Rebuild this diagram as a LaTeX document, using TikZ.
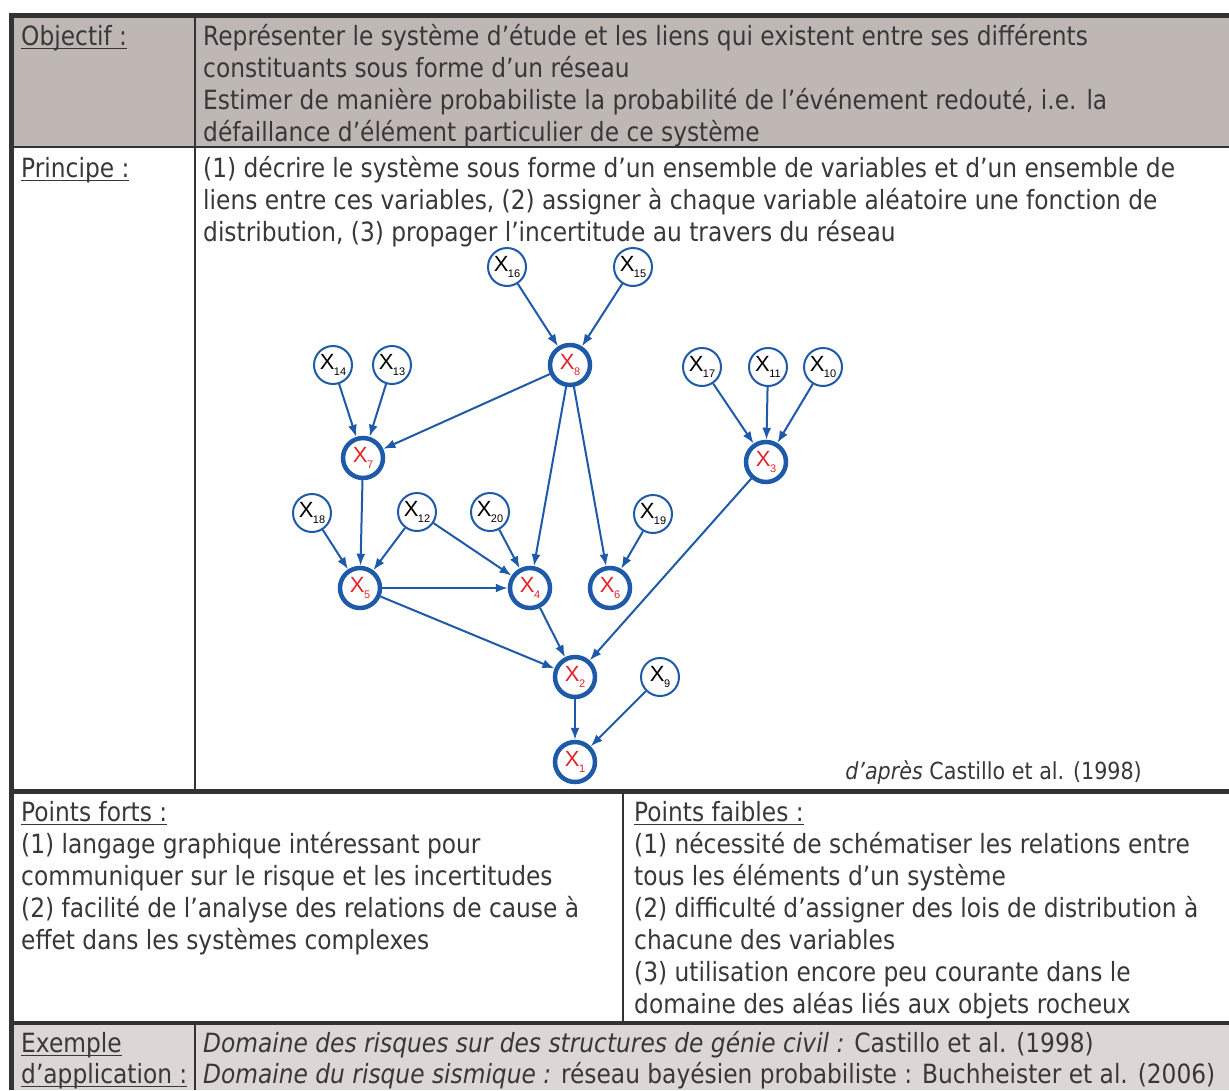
\documentclass[tikz,border=0pt]{standalone}
\usepackage{fontspec}
\setmainfont[FakeStretch=0.88]{DejaVu Sans}
\newfontfamily\graphfont{Liberation Sans}
\usetikzlibrary{arrows.meta}
\newlength\lblw
\newcommand{\lbl}[1]{\settowidth{\lblw}{#1}\rlap{#1}\rule[-4pt]{\lblw}{1.5pt}}
\newcommand{\xvar}[1]{{\graphfont\fontsize{22}{22}\selectfont X\kern-0.5pt\raisebox{-6pt}{\fontsize{11}{11}\selectfont #1}}}
\begin{document}
\begin{tikzpicture}[x=1pt,y=-1pt,
  txt/.style={anchor=base west,inner sep=0pt,text=textgray,font=\fontsize{26.5}{32}\selectfont},
  varsmall/.style={circle,draw=nodeblue,line width=2pt,minimum size=38pt,inner sep=0pt,fill=white},
  varbig/.style={circle,draw=nodeblue,line width=4.5pt,minimum size=40pt,inner sep=0pt,fill=white,text=nodered},
  link/.style={draw=nodeblue,line width=2pt,-{Latex[length=12pt,width=9pt]}}]
\definecolor{rulegray}{HTML}{333336}
\definecolor{objgray}{HTML}{BFB7B4}
\definecolor{exgray}{HTML}{DCD7D4}
\definecolor{textgray}{HTML}{383838}
\definecolor{nodeblue}{HTML}{1E5AA8}
\definecolor{nodered}{HTML}{E3232B}
\useasboundingbox (0,0) rectangle (1229,1090);
\fill[white] (0,0) rectangle (1229,1090);
\fill[objgray] (14,18) rectangle (1229,146);
\fill[exgray] (14,1024) rectangle (1229,1090);
\fill[rulegray] (9,13) rectangle (1229,18);
\fill[rulegray] (9,13) rectangle (14,1090);
\fill[rulegray] (14,146) rectangle (1229,148);
\fill[rulegray] (194,18) rectangle (196,789);
\fill[rulegray] (14,789) rectangle (1229,794);
\fill[rulegray] (622,794) rectangle (624,1022);
\fill[rulegray] (14,1021) rectangle (1229,1025);
\fill[rulegray] (194,1025) rectangle (196,1090);
\node[txt] (objlabel) at (21,45) {\lbl{Objectif :}};
\foreach \t [count=\i from 0] in {{Représenter le système d’étude et les liens qui existent entre ses différents},
  {constituants sous forme d’un réseau},
  {Estimer de manière probabiliste la probabilité de l’événement redouté, i.e. la},
  {défaillance d’élément particulier de ce système}}
  \node[txt] (obj\i) at (203,45+32*\i) {\t};
\node[txt] (prilabel) at (21,177) {\lbl{Principe :}};
\foreach \t [count=\i from 0] in {{(1) décrire le système sous forme d’un ensemble de variables et d’un ensemble de},
  {liens entre ces variables, (2) assigner à chaque variable aléatoire une fonction de},
  {distribution, (3) propager l’incertitude au travers du réseau}}
  \node[txt] (pri\i) at (203,177+32*\i) {\t};
\node[txt,font=\fontsize{23.5}{28}\selectfont,anchor=base east] (source) at (1142,779) {\textit{d’après} Castillo et al. (1998)};
\node[txt] (fortlabel) at (21,821) {\lbl{Points forts :}};
\foreach \t [count=\i from 1] in {{(1) langage graphique intéressant pour},
  {communiquer sur le risque et les incertitudes},
  {(2) facilité de l’analyse des relations de cause à},
  {effet dans les systèmes complexes}}
  \node[txt] (fort\i) at (21,821+32*\i) {\t};
\node[txt] (faiblabel) at (634,821) {\lbl{Points faibles :}};
\foreach \t [count=\i from 1] in {{(1) nécessité de schématiser les relations entre},
  {tous les éléments d’un système},
  {(2) difficulté d’assigner des lois de distribution à},
  {chacune des variables},
  {(3) utilisation encore peu courante dans le},
  {domaine des aléas liés aux objets rocheux}}
  \node[txt] (faib\i) at (634,821+32*\i) {\t};
\node[txt] (exlabel1) at (21,1052) {\lbl{Exemple}};
\node[txt] (exlabel2) at (21,1083) {\lbl{d’application :}};
\node[txt] (ex1) at (203,1052) {\textit{Domaine des risques sur des structures de génie civil :} Castillo et al. (1998)};
\node[txt] (ex2) at (203,1083) {\textit{Domaine du risque sismique :} réseau bayésien probabiliste : Buchheister et al. (2006)};
\foreach \n/\x/\y in {16/507/267,15/633/267,14/333/365,13/392/365,17/702/367,11/768/367,10/823/367,
  18/312/513,12/417/512,20/490/512,19/653/514,9/660/677}
  \node[varsmall] (x\n) at (\x,\y) {\xvar{\n}};
\foreach \n/\x/\y in {8/570/365,7/363/458,3/766/462,5/360/588,4/530/588,6/610/588,2/575/677,1/575/762}
  \node[varbig] (x\n) at (\x,\y) {\xvar{\n}};
\foreach \a/\b in {16/8,15/8,14/7,13/7,8/7,8/4,8/6,17/3,11/3,10/3,18/5,7/5,12/5,12/4,20/4,5/4,19/6,3/2,4/2,5/2,2/1,9/1}
  \draw[link] (x\a) -- (x\b);
\end{tikzpicture}
\end{document}
